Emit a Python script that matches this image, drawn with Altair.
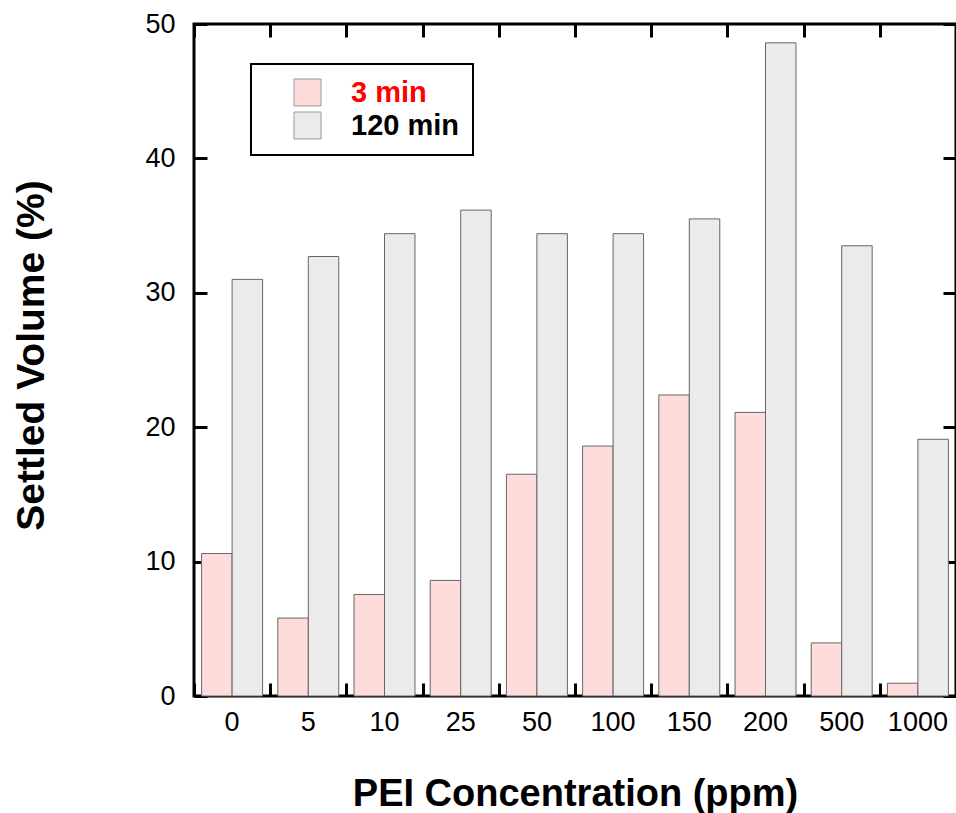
import altair as alt
import pandas as pd

concentrations = ["0", "5", "10", "25", "50", "100", "150", "200", "500", "1000"]
series = ["3 min", "120 min"]
settled_3min = [10.6, 5.8, 7.55, 8.6, 16.5, 18.6, 22.4, 21.1, 3.95, 0.95]
settled_120min = [31.0, 32.7, 34.4, 36.15, 34.4, 34.4, 35.5, 48.6, 33.5, 19.1]
y_ticks = [0, 10, 20, 30, 40, 50]

rows = []
for c, a, b in zip(concentrations, settled_3min, settled_120min):
    rows.append({"conc": c, "time": "3 min", "value": a})
    rows.append({"conc": c, "time": "120 min", "value": b})
df = pd.DataFrame(rows)

W, H = 762, 672
FONT = "Liberation Sans"

xscale = alt.Scale(paddingInner=0, paddingOuter=0)
yscale = alt.Scale(domain=[0, 50], nice=False)

tick_common = dict(labels=False, domain=False, title=None, ticks=True,
                   tickColor="black", tickWidth=3, tickSize=13, grid=False)

bars = alt.Chart(df).mark_bar(stroke="#666666", strokeWidth=1).encode(
    x=alt.X("conc:N", sort=concentrations, scale=xscale,
            axis=alt.Axis(orient="bottom", title="PEI Concentration (ppm)",
                          ticks=False, domain=False, labelAngle=0,
                          labelFont=FONT, labelFontSize=27, labelColor="black",
                          labelPadding=13,
                          titleFont=FONT, titleFontSize=38, titleFontWeight="bold",
                          titleColor="black", titleBaseline="alphabetic",
                          titleY=109, titleX=W / 2)),
    xOffset=alt.XOffset("time:N", sort=series,
                        scale=alt.Scale(paddingInner=0, paddingOuter=0.25)),
    y=alt.Y("value:Q", scale=yscale,
            axis=alt.Axis(orient="left", values=y_ticks, title="Settled Volume (%)",
                          ticks=False, domain=False, grid=False,
                          labelFont=FONT, labelFontSize=27, labelColor="black",
                          labelPadding=19,
                          titleFont=FONT, titleFontSize=39, titleFontWeight="bold",
                          titleColor="black", titleBaseline="alphabetic",
                          titleAngle=270, titleX=-151, titleY=331)),
    color=alt.Color("time:N", sort=series,
                    scale=alt.Scale(domain=series, range=["#ffdcdc", "#ebebeb"]),
                    legend=alt.Legend(
                        orient="none", legendX=57, legendY=40, title=None,
                        direction="vertical",
                        strokeColor="black", fillColor="white",
                        padding=14, symbolOffset=28,
                        symbolType="square", symbolSize=729,
                        symbolStrokeColor="#999999", symbolStrokeWidth=1,
                        symbolOpacity=1,
                        labelFont=FONT, labelFontSize=29, labelFontWeight="bold",
                        labelOffset=29,
                        labelColor={"expr": "datum.label == '3 min' ? '#ff0000' : '#000000'"},
                    )),
)

helper1 = alt.Chart(df).mark_bar(opacity=0).encode(
    x=alt.X("conc:N", sort=concentrations, scale=xscale,
            axis=alt.Axis(orient="top", offset=-H, tickBand="extent", **tick_common)),
    y=alt.Y("value:Q", scale=yscale,
            axis=alt.Axis(orient="right", offset=-W, values=y_ticks, **tick_common)),
)

helper2 = alt.Chart(df).mark_bar(opacity=0).encode(
    x=alt.X("conc:N", sort=concentrations, scale=xscale,
            axis=alt.Axis(orient="bottom", offset=-H, tickBand="extent", **tick_common)),
    y=alt.Y("value:Q", scale=yscale,
            axis=alt.Axis(orient="left", offset=-W, values=y_ticks, **tick_common)),
)

chart = alt.layer(bars, helper1, helper2).resolve_axis(
    x="independent", y="independent"
).properties(
    width=W, height=H,
    autosize=alt.AutoSizeParams(type="none"),
    padding={"left": 194, "top": 24, "right": 0, "bottom": 117},
).configure_view(
    stroke="black", strokeWidth=3
).configure_legend(
    strokeWidth=2, rowPadding=2
)

chart.save("out.html", embed_options={"renderer": "svg", "actions": False})
